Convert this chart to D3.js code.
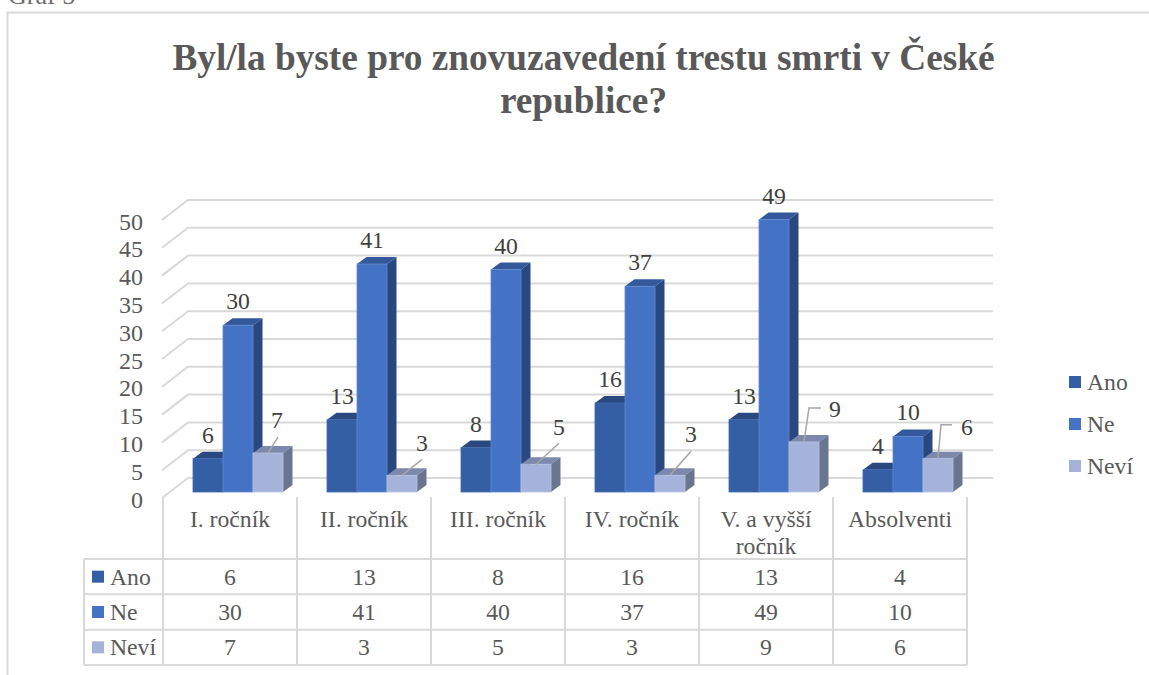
<!DOCTYPE html>
<html>
<head>
<meta charset="utf-8">
<script src="https://cdn.jsdelivr.net/npm/d3@7/dist/d3.min.js"></script>
<style>
    html, body { margin: 0; padding: 0; background: #fff; overflow: hidden; }
    svg { display: block; }
    text { font-family: "Liberation Serif", serif; fill: #595959; }
</style>
</head>
<body>
<div id="chart"></div>
<script>
const categories = ['I. ročník', 'II. ročník', 'III. ročník', 'IV. ročník', 'V. a vyšší ročník', 'Absolventi']
const seriesNames = ['Ano', 'Ne', 'Neví']
const ano = [6, 13, 8, 16, 13, 4]
const ne = [30, 41, 40, 37, 49, 10]
const nevi = [7, 3, 5, 3, 9, 6]
const yTicks = [0, 5, 10, 15, 20, 25, 30, 35, 40, 45, 50]

const seriesValues = [ano, ne, nevi]

const colors = {
    Ano: { front: '#355FA5', side: '#274680', top: '#28487F', edge: '#4268AC' },
    Ne: { front: '#4472C4', side: '#2A4880', top: '#33589C', edge: '#6288D0' },
    'Neví': { front: '#A5B2DA', side: '#6A7690', top: '#7C88AC', edge: '#B6C2E2' }
}

const width = 1149
const height = 675
const gridColor = '#D9D9D9'
const textSize = 23.7

// depth of a bar and of the chart walls, in px
const barDepth = { x: 9.5, y: 7 }
const wallDepth = { x: 26, y: 20 }

// data label / leader line offsets of the Neví bars, relative to top centre of the front face
const neviLeaders = [
    { line: [[0, 0], [10, -16]], label: [9, -33] },
    { line: [[0, 0], [20, -16]], label: [20, -32] },
    { line: [[0, 0], [23, -21]], label: [23, -37] },
    { line: [[0, 0], [21, -24]], label: [21, -41] },
    { line: [[0, 0], [5, -34], [17, -34]], label: [31, -33] },
    { line: [[0, 0], [3, -34], [14, -34]], label: [29, -32] }
]

const svg = d3.select('#chart')
    .append('svg')
    .attr('width', width)
    .attr('height', height)

const xScale = d3.scaleBand()
    .domain(categories)
    .range([163, 967])

const innerX = d3.scaleBand()
    .domain(seriesNames)
    .range([30, 120])

const yScale = d3.scaleLinear()
    .domain([0, 50])
    .range([492, 214])

// chart frame, runs off the page on the right and at the bottom
svg.append('path')
    .attr('d', `M7.5,${height} V12.5 H${width}`)
    .attr('fill', 'none')
    .attr('stroke', gridColor)
    .attr('stroke-width', 2)

// "Graf 5" caption, cut off by the top of the page as in the source
svg.append('text')
    .attr('x', 8)
    .attr('y', 4)
    .style('font-size', '26px')
    .style('fill', '#6b6b6b')
    .text('Graf 5')

const title = svg.append('text')
    .attr('text-anchor', 'middle')
    .style('font-size', '37.3px')
    .style('font-weight', 'bold')
title.append('tspan').attr('x', 583.5).attr('y', 70).text('Byl/la byste pro znovuzavedení trestu smrti v České')
title.append('tspan').attr('x', 583.5).attr('y', 113).text('republice?')

// gridlines: floor/side diagonal plus the back wall line
const grid = svg.append('g')
    .attr('fill', 'none')
    .attr('stroke', gridColor)
    .attr('stroke-width', 2)

grid.selectAll('path')
    .data(yTicks)
    .enter()
    .append('path')
    .attr('d', d => {
        const y = yScale(d) + 6
        return `M${xScale.range()[0] - 1},${y} L${xScale.range()[0] - 1 + wallDepth.x},${y - wallDepth.y} H993`
    })

const yAxis = d3.axisLeft(yScale)
    .tickValues(yTicks)
    .tickSize(0)
    .tickPadding(0)

svg.append('g')
    .attr('transform', 'translate(143, 7.5)')
    .call(yAxis)
    .call(g => g.select('.domain').remove())
    .selectAll('text')
    .style('font-size', '24px')
    .style('font-family', '"Liberation Serif", serif')

// bars, drawn left to right so each front face covers the side of its neighbour
const rows = categories.flatMap((cat, i) => seriesNames.map((name, s) => ({
    cat, i, name, value: seriesValues[s][i]
})))

const barG = svg.selectAll('.bar')
    .data(rows)
    .enter()
    .append('g')
    .attr('class', 'bar')

const x0 = d => xScale(d.cat) + innerX(d.name)
const x1 = d => x0(d) + innerX.bandwidth()
const yTop = d => yScale(d.value)
const yBase = yScale(0)

barG.append('path')
    .attr('fill', d => colors[d.name].top)
    .attr('d', d => `M${x0(d)},${yTop(d)} l${barDepth.x},${-barDepth.y} H${x1(d) + barDepth.x} L${x1(d)},${yTop(d)} Z`)

barG.append('path')
    .attr('fill', d => colors[d.name].side)
    .attr('d', d => `M${x1(d)},${yTop(d)} l${barDepth.x},${-barDepth.y} V${yBase - barDepth.y} L${x1(d)},${yBase} Z`)

barG.append('rect')
    .attr('x', x0)
    .attr('y', yTop)
    .attr('width', innerX.bandwidth())
    .attr('height', d => yBase - yTop(d))
    .attr('fill', d => colors[d.name].front)
    .attr('stroke', d => colors[d.name].edge)
    .attr('stroke-width', 0.8)

// data labels
const labelText = (x, y, t) => svg.append('text')
    .attr('x', x)
    .attr('y', y + 8)
    .attr('text-anchor', 'middle')
    .style('font-size', textSize + 'px')
    .style('fill', '#404040')
    .text(t)

const lineGen = d3.line()

rows.forEach(d => {
    const xc = x0(d) + innerX.bandwidth() / 2
    if (d.name === 'Neví') {
        const lead = neviLeaders[d.i]
        svg.append('path')
            .attr('d', lineGen(lead.line.map(p => [xc + p[0], yTop(d) + p[1]])))
            .attr('fill', 'none')
            .attr('stroke', '#A6A6A6')
            .attr('stroke-width', 1.5)
        labelText(xc + lead.label[0], yTop(d) + lead.label[1], d.value)
    } else {
        labelText(xc, yTop(d) - 24, d.value)
    }
})

// data table under the chart
const rowY = d3.scaleBand()
    .domain(seriesNames)
    .range([559, 665])

const table = svg.append('g')
    .attr('fill', 'none')
    .attr('stroke', gridColor)
    .attr('stroke-width', 2)

table.selectAll('.hline')
    .data([...seriesNames.map(n => rowY(n)), rowY.range()[1]])
    .enter()
    .append('line')
    .attr('class', 'hline')
    .attr('x1', 84)
    .attr('x2', 967)
    .attr('y1', d => d)
    .attr('y2', d => d)

table.selectAll('.vline')
    .data([...categories.map(c => xScale(c)), xScale.range()[1]])
    .enter()
    .append('line')
    .attr('class', 'vline')
    .attr('x1', d => d)
    .attr('x2', d => d)
    .attr('y1', 497)
    .attr('y2', 665)

table.append('line')
    .attr('x1', 84)
    .attr('x2', 84)
    .attr('y1', 559)
    .attr('y2', 665)

categories.forEach(cat => {
    const cx = xScale(cat) + xScale.bandwidth() / 2
    const lines = cat === 'V. a vyšší ročník' ? ['V. a vyšší', 'ročník'] : [cat]
    lines.forEach((l, n) => {
        svg.append('text')
            .attr('x', cx)
            .attr('y', 527 + n * 27)
            .attr('text-anchor', 'middle')
            .style('font-size', textSize + 'px')
            .text(l)
    })
})

seriesNames.forEach((name, s) => {
    const cy = rowY(name) + rowY.bandwidth() / 2
    svg.append('rect')
        .attr('x', 92)
        .attr('y', cy - 6)
        .attr('width', 12)
        .attr('height', 12)
        .attr('fill', colors[name].front)
    svg.append('text')
        .attr('x', 110)
        .attr('y', cy + 8)
        .style('font-size', textSize + 'px')
        .text(name)
    seriesValues[s].forEach((v, i) => {
        svg.append('text')
            .attr('x', xScale(categories[i]) + xScale.bandwidth() / 2)
            .attr('y', cy + 8)
            .attr('text-anchor', 'middle')
            .style('font-size', textSize + 'px')
            .text(v)
    })
})

// legend
const legendY = d3.scalePoint()
    .domain(seriesNames)
    .range([382, 466])

const legend = svg.selectAll('.legend')
    .data(seriesNames)
    .enter()
    .append('g')
    .attr('class', 'legend')
    .attr('transform', d => `translate(1069, ${legendY(d)})`)

legend.append('rect')
    .attr('y', -6)
    .attr('width', 12)
    .attr('height', 12)
    .attr('fill', d => colors[d].front)

legend.append('text')
    .attr('x', 18)
    .attr('y', 8)
    .style('font-size', textSize + 'px')
    .text(d => d)
</script>
</body>
</html>
